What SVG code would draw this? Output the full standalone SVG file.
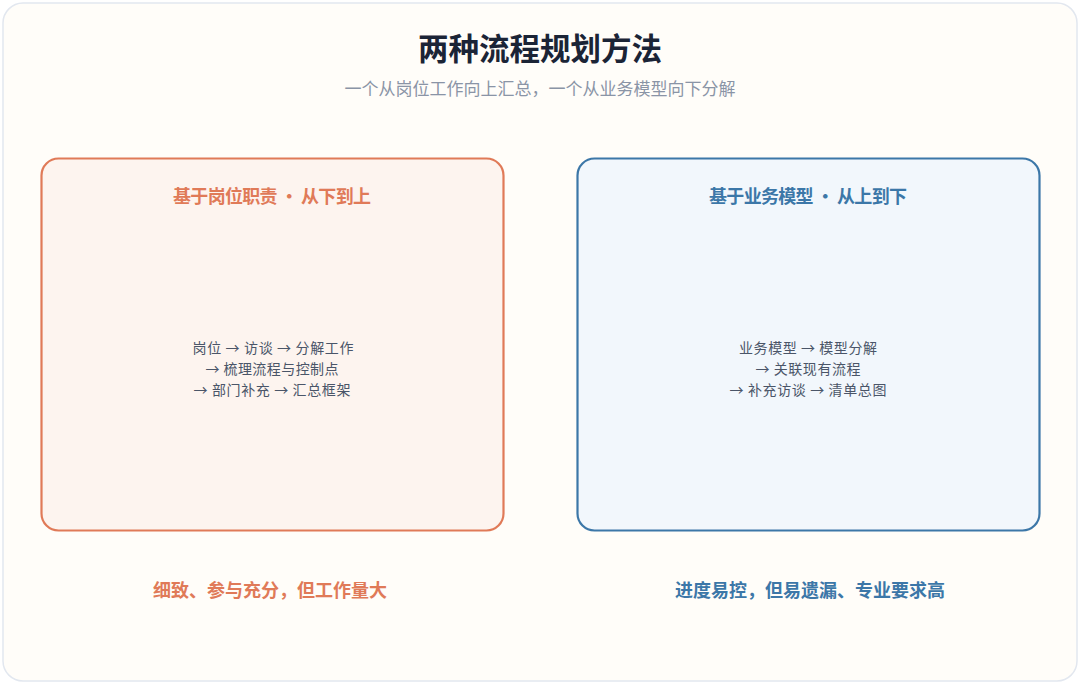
<svg xmlns="http://www.w3.org/2000/svg" width="1080" height="684" viewBox="0 0 1080 684">
<style>
text{font-family:"Noto Sans CJK SC","Noto Sans",sans-serif;text-anchor:middle}
.title{font-size:30.5px;font-weight:700;fill:#1b2436}
.sub{font-size:17px;fill:#8a94a6}
.ht{font-size:18px;font-weight:700}
.body{font-size:14px;fill:#4a5568}
.foot{font-size:18px;font-weight:700}
.or{fill:#e07a58}
.bl{fill:#3c77a8}
</style>
<rect x="3" y="3" width="1074" height="678" rx="20" fill="#fffdf9" stroke="#e2e7ef" stroke-width="1.5"/>
<text class="title" x="540" y="60">两种流程规划方法</text>
<text class="sub" x="540" y="95">一个从岗位工作向上汇总，一个从业务模型向下分解</text>
<g id="left">
<rect x="41.5" y="158.5" width="462" height="372" rx="17" fill="#fdf4ef" stroke="#e07a58" stroke-width="2.2"/>
<text class="ht or" x="272" y="203" textLength="198" lengthAdjust="spacing">基于岗位职责 · 从下到上</text>
<text class="body" x="273" y="353" textLength="161" lengthAdjust="spacing">岗位 → 访谈 → 分解工作</text>
<text class="body" x="272" y="374" textLength="133" lengthAdjust="spacing">→ 梳理流程与控制点</text>
<text class="body" x="272" y="395" textLength="157" lengthAdjust="spacing">→ 部门补充 → 汇总框架</text>
</g>
<g id="right">
<rect x="577.5" y="158.5" width="462" height="372" rx="17" fill="#f2f7fc" stroke="#3c77a8" stroke-width="2.2"/>
<text class="ht bl" x="808" y="203" textLength="198" lengthAdjust="spacing">基于业务模型 · 从上到下</text>
<text class="body" x="808" y="353" textLength="138" lengthAdjust="spacing">业务模型 → 模型分解</text>
<text class="body" x="808" y="374" textLength="105" lengthAdjust="spacing">→ 关联现有流程</text>
<text class="body" x="808" y="395" textLength="157" lengthAdjust="spacing">→ 补充访谈 → 清单总图</text>
</g>
<g id="connectors"></g>
<text class="foot or" x="270" y="597">细致、参与充分，但工作量大</text>
<text class="foot bl" x="810" y="597">进度易控，但易遗漏、专业要求高</text>
</svg>
